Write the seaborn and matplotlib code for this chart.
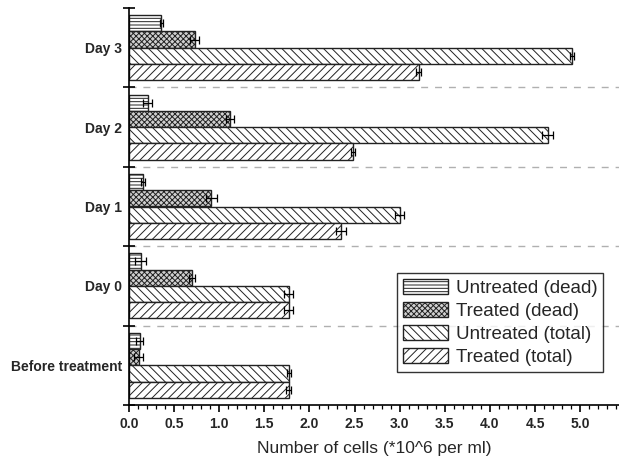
import numpy as np
import pandas as pd
import matplotlib
matplotlib.use("Agg")
import matplotlib.pyplot as plt
import seaborn as sns

# ---- data ----
groups = ["Day 3", "Day 2", "Day 1", "Day 0", "Before treatment"]
series = ["Untreated (dead)", "Treated (dead)", "Untreated (total)", "Treated (total)"]
untreated_dead = [0.36, 0.21, 0.155, 0.13, 0.12]
treated_dead = [0.73, 1.12, 0.91, 0.70, 0.11]
untreated_total = [4.91, 4.64, 3.00, 1.77, 1.77]
treated_total = [3.21, 2.48, 2.35, 1.77, 1.77]
err_untreated_dead = [0.02, 0.05, 0.02, 0.06, 0.04]
err_treated_dead = [0.05, 0.04, 0.06, 0.03, 0.05]
err_untreated_total = [0.02, 0.06, 0.05, 0.05, 0.02]
err_treated_total = [0.03, 0.02, 0.06, 0.05, 0.03]
xtick_values = [0.0, 0.5, 1.0, 1.5, 2.0, 2.5, 3.0, 3.5, 4.0, 4.5, 5.0]

values = [untreated_dead, treated_dead, untreated_total, treated_total]
errors = [err_untreated_dead, err_treated_dead, err_untreated_total, err_treated_total]

df = pd.DataFrame({
    "group": np.tile(groups, len(series)),
    "series": np.repeat(series, len(groups)),
    "value": np.concatenate(values),
})

sns.set_theme(style="white")
plt.rcParams["font.family"] = ["Liberation Sans", "DejaVu Sans"]
plt.rcParams["hatch.linewidth"] = 0.7

fig = plt.figure(figsize=(6.19, 4.63), dpi=100)
ax = fig.add_axes([129 / 619, 1 - 405 / 463, 490 / 619, 397 / 463])

sns.barplot(data=df, y="group", x="value", hue="series", order=groups,
            hue_order=series, orient="h", width=0.82, legend=False,
            palette=["white"] * 4, edgecolor="black", linewidth=1.0,
            saturation=1, ax=ax)

hatches = ["-----", "xxxxxx", "\\\\\\\\", "////"]
facecols = ["white", "#d0d0d0", "white", "white"]
for cont, h, fc, errs in zip(ax.containers, hatches, facecols, errors):
    ys, xs = [], []
    for bar in cont:
        bar.set_hatch(h)
        bar.set_facecolor(fc)
        bar.set_edgecolor("#222222")
        ys.append(bar.get_y() + bar.get_height() / 2)
        xs.append(bar.get_width())
    ax.errorbar(xs, ys, xerr=errs, fmt="none", ecolor="black",
                elinewidth=0.9, capsize=3, capthick=0.9, zorder=5)

# group boundaries
bounds = np.arange(-0.5, len(groups) + 0.5, 1.0)
for b in bounds[1:-1]:
    ax.axhline(b, color="#b0b0b0", lw=1.0, ls=(0, (5, 5)), zorder=0)

ax.set_ylim(len(groups) - 0.5, -0.5)
ax.set_xlim(0, 5.43)
ax.set_xticks(xtick_values)
ax.set_xticklabels([f"{v:.1f}" for v in xtick_values])
ax.set_xticks(np.arange(0, 5.43, 0.1), minor=True)
ax.set_yticks(bounds, minor=True)

ax.tick_params(axis="y", which="major", length=0, pad=5, labelsize=10)
ax.tick_params(axis="y", which="minor", direction="inout", length=8, width=1.2, color="black", left=True)
ax.tick_params(axis="x", which="major", direction="out", length=5, width=1.2, pad=4, labelsize=10, color="black", bottom=True)
ax.tick_params(axis="x", which="minor", direction="out", length=3, width=0.9, color="black", bottom=True)
for lbl in ax.get_yticklabels() + ax.get_xticklabels():
    lbl.set_fontweight("bold")

for s in ["top", "right"]:
    ax.spines[s].set_visible(False)
for s in ["left", "bottom"]:
    ax.spines[s].set_color("black")
    ax.spines[s].set_linewidth(1.2)

ax.set_ylabel("")
ax.set_xlabel("Number of cells (*10^6 per ml)", fontsize=12.5, labelpad=7)

leg = ax.legend(ax.containers, series, loc="upper right",
                bbox_to_anchor=(0.967, 0.332), fontsize=13.5, frameon=True,
                fancybox=False, edgecolor="black", handlelength=2.4,
                handleheight=0.9, borderpad=0.3, labelspacing=0.25,
                handletextpad=0.4, borderaxespad=0)
leg.get_frame().set_linewidth(1.0)

fig.savefig("out.png", dpi=100)
